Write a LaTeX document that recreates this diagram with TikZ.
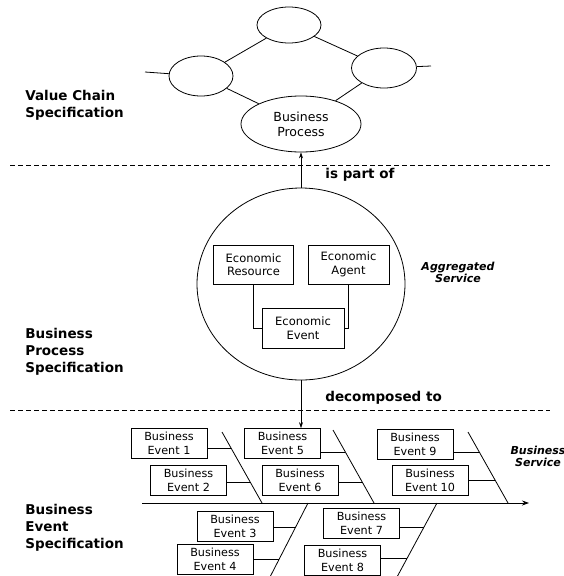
\documentclass[tikz,border=0pt]{standalone}
\usepackage{fontspec}
\setmainfont{DejaVu Sans}
\usetikzlibrary{shapes.geometric,arrows.meta}
\begin{document}
\begin{tikzpicture}[x=1pt,y=-1pt,
  line width=0.8pt,
  ell/.style={draw,ellipse,inner sep=0pt},
  ebox/.style={draw,line width=0.6pt,minimum width=76pt,minimum height=30pt,inner sep=0pt,align=center,font=\fontsize{11.2}{14}\selectfont},
  ecbox/.style={draw,line width=0.6pt,minimum width=80pt,minimum height=39pt,inner sep=0pt,align=center,font=\fontsize{11.5}{13.5}\selectfont},
  lbl/.style={anchor=north west,align=left,inner sep=0pt,font=\fontsize{13.5}{17}\selectfont\bfseries},
  sep/.style={dash pattern=on 5pt off 3pt,line width=0.6pt},
  thin/.style={line width=0.6pt},
  arr/.style={-{Stealth[length=6pt,width=4pt]},line width=0.6pt},
  ital/.style={align=center,inner sep=0pt,font=\fontsize{11}{12}\selectfont\bfseries\itshape}]
\useasboundingbox (0,0) rectangle (564,576);
% value chain
\node[ell,minimum width=64pt,minimum height=36pt] (top) at (289,25) {};
\node[ell,minimum width=64pt,minimum height=40pt] (lft) at (201,76) {};
\node[ell,minimum width=65pt,minimum height=40pt] (rgt) at (384,68) {};
\node[ell,minimum width=120pt,minimum height=56pt,align=center,font=\fontsize{12.5}{15}\selectfont] (bp) at (301,124) {Business\\Process};
\coordinate (lstub) at (145,72);
\coordinate (rstub) at (431,66);
\draw (lstub) -- (lft);
\draw (rgt) -- (rstub);
\draw (lft) -- (top);
\draw (top) -- (rgt);
\draw (lft) -- (bp);
\draw (rgt) -- (bp);
% separators
\coordinate (s1a) at (10,165); \coordinate (s1b) at (550,165);
\coordinate (s2a) at (10,410); \coordinate (s2b) at (550,410);
\draw[sep] (s1a) -- (s1b);
\draw[sep] (s2a) -- (s2b);
% labels
\node[lbl] (l1) at (25,90) {Value Chain\\Specification};
\node[lbl] (l2) at (25,328) {Business\\Process\\Specification};
\node[lbl] (l3) at (25,504) {Business\\Event\\Specification};
\node[anchor=west,inner sep=0pt,font=\fontsize{13.5}{14}\selectfont\bfseries] (ipo) at (325,175) {is part of};
\node[anchor=west,inner sep=0pt,font=\fontsize{13.5}{14}\selectfont\bfseries] (dec) at (325,398) {decomposed to};
% aggregated service
\node[ell,minimum width=208pt,minimum height=192pt] (circ) at (301,284) {};
\node[ecbox] (res) at (253.5,264.5) {Economic\\Resource};
\node[ecbox,minimum width=81pt] (agt) at (348.5,264.5) {Economic\\Agent};
\node[ecbox,minimum width=82pt,minimum height=40pt] (evt) at (303,328) {Economic\\Event};
\draw[thin] (res.south) |- (evt.west);
\draw[thin] (agt.south) |- (evt.east);
\node[ital] (agg) at (458,272) {Aggregated\\Service};
\draw[arr] (circ.north) -- (bp.south);
% fishbone
\node[ebox] (e1) at (169,443.5) {Business\\Event 1};
\node[ebox] (e2) at (188.5,480) {Business\\Event 2};
\node[ebox] (e3) at (235,526) {Business\\Event 3};
\node[ebox] (e4) at (215,559.5) {Business\\Event 4};
\node[ebox] (e5) at (282.5,443.5) {Business\\Event 5};
\node[ebox] (e6) at (300,480) {Business\\Event 6};
\node[ebox] (e7) at (361.5,523.5) {Business\\Event 7};
\node[ebox] (e8) at (342.5,560) {Business\\Event 8};
\node[ebox] (e9) at (415,444) {Business\\Event 9};
\node[ebox] (e10) at (430,480) {Business\\Event 10};
\node[ital] (bsv) at (538,456) {Business\\Service};
\draw[arr] (circ.south) -- (circ.south |- e5.north);
\coordinate (sp0) at (142,503); \coordinate (sp1) at (529,503);
\draw[-{Stealth[length=7pt,width=5pt]}] (sp0) -- (sp1);
\coordinate (b1t) at (222,432); \coordinate (b1b) at (262,503);
\coordinate (b2t) at (333,430); \coordinate (b2b) at (374,503);
\coordinate (b3t) at (468,432); \coordinate (b3b) at (508,503);
\coordinate (b4t) at (308,503); \coordinate (b4b) at (270,577);
\coordinate (b5t) at (437,503); \coordinate (b5b) at (397,577);
\draw (b1t) -- (b1b);
\draw (b2t) -- (b2b);
\draw (b3t) -- (b3b);
\draw (b4t) -- (b4b);
\draw (b5t) -- (b5b);
\coordinate (c1) at (231,448); \coordinate (c2) at (250,482);
\coordinate (c5) at (345,452); \coordinate (c6) at (362,482);
\coordinate (c9) at (479,452); \coordinate (c10) at (495,480);
\coordinate (c3) at (296,527); \coordinate (c4) at (279,559);
\coordinate (c7) at (424,527); \coordinate (c8) at (407,558);
\draw[thin] (e1.east |- c1) -- (c1);
\draw[thin] (e2.east |- c2) -- (c2);
\draw[thin] (e5.east |- c5) -- (c5);
\draw[thin] (e6.east |- c6) -- (c6);
\draw[thin] (e9.east |- c9) -- (c9);
\draw[thin] (e10.east |- c10) -- (c10);
\draw[thin] (e3.east |- c3) -- (c3);
\draw[thin] (e4.east |- c4) -- (c4);
\draw[thin] (e7.east |- c7) -- (c7);
\draw[thin] (e8.east |- c8) -- (c8);
\end{tikzpicture}
\end{document}
